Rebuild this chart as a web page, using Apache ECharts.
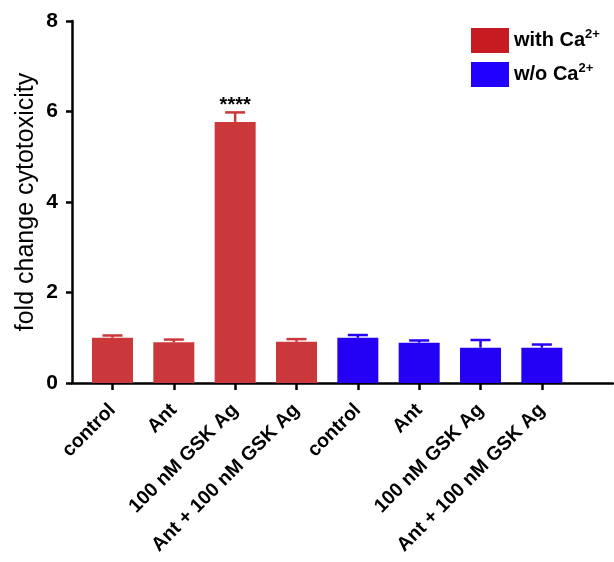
<!DOCTYPE html>
<html>
<head>
<meta charset="utf-8">
<script src="https://cdn.jsdelivr.net/npm/echarts@6/dist/echarts.min.js"></script>
<style>html,body{margin:0;padding:0;background:#fff;}#c{width:614px;height:562px;}</style>
</head>
<body>
<div id="c"></div>
<script>
const categories = ['control', 'Ant', '100 nM GSK Ag', 'Ant + 100 nM GSK Ag', 'control', 'Ant', '100 nM GSK Ag', 'Ant + 100 nM GSK Ag'];
const withCa = [1.00, 0.90, 5.77, 0.91];
const withCaErr = [0.05, 0.06, 0.21, 0.06];
const woCa = [1.00, 0.89, 0.78, 0.78];
const woCaErr = [0.06, 0.05, 0.17, 0.07];
const significance = ['', '', '****', '', '', '', '', ''];
const yTicks = [0, 2, 4, 6, 8];

const FONT = 'Liberation Sans, Arial, Helvetica, sans-serif';
const RED = '#ca383b';
const BLUE = '#2400f5';

const redData = withCa.map((v, i) => [i, v]);
const blueData = woCa.map((v, i) => [i + 4, v]);
const redErr = withCa.map((v, i) => [i, v, withCaErr[i]]);
const blueErr = woCa.map((v, i) => [i + 4, v, woCaErr[i]]);

function errRender(color) {
  return function (params, api) {
    const x = api.value(0), y = api.value(1), e = api.value(2);
    const sig = significance[x];
    const p0 = api.coord([x, y]);
    const p1 = api.coord([x, y + e]);
    const children = [
      { type: 'line', shape: { x1: p0[0], y1: p0[1], x2: p1[0], y2: p1[1] }, style: { stroke: color, lineWidth: 2.5 } },
      { type: 'line', shape: { x1: p1[0] - 10, y1: p1[1], x2: p1[0] + 10, y2: p1[1] }, style: { stroke: color, lineWidth: 2.5 } }
    ];
    if (sig) {
      children.push({ type: 'text', x: p1[0], y: p1[1] + 3, style: { text: sig, fill: '#000', font: 'bold 20px ' + FONT, align: 'center', verticalAlign: 'bottom' } });
    }
    return { type: 'group', children: children };
  };
}

const chart = echarts.init(document.getElementById('c'), null, { renderer: 'canvas' });
chart.setOption({
  animation: false,
  backgroundColor: '#fff',
  grid: { left: 72, right: 1, top: 21, bottom: 179, containLabel: false },
  legend: {
    orient: 'vertical',
    left: 466, top: 23,
    itemWidth: 38, itemHeight: 25, itemGap: 9,
    icon: 'rect',
    data: [
      { name: 'with Ca2+', itemStyle: { color: '#c61b20' } },
      { name: 'w/o Ca2+', itemStyle: { color: '#2200ff' } }
    ],
    formatter: function (name) { return '{t|' + name.replace('2+', '') + '}{s|2+}'; },
    textStyle: {
      rich: {
        t: { fontFamily: FONT, fontWeight: 'bold', fontSize: 20, color: '#000', lineHeight: 24 },
        s: { fontFamily: FONT, fontWeight: 'bold', fontSize: 13, color: '#000', lineHeight: 24, padding: [0, 0, 12, 0] }
      }
    }
  },
  xAxis: {
    type: 'value',
    min: -0.66, max: 8.16,
    splitLine: { show: false },
    axisLine: { show: true, onZero: false, lineStyle: { color: '#000', width: 2.5 } },
    axisTick: { show: true, customValues: categories.map((c, i) => i), length: 7, lineStyle: { color: '#000', width: 2.5 } },
    axisLabel: {
      show: true, customValues: categories.map((c, i) => i),
      formatter: function (v) { return categories[Math.round(v)]; },
      rotate: 45, margin: 24,
      fontFamily: FONT, fontWeight: 'bold', fontSize: 19.5, color: '#000'
    }
  },
  yAxis: {
    type: 'value', min: 0, max: 8, interval: 2,
    name: 'fold change cytotoxicity', nameLocation: 'middle', nameGap: 33, nameRotate: 90,
    nameMoveOverlap: false,
    nameTextStyle: { fontFamily: FONT, fontSize: 25, color: '#000' },
    splitLine: { show: false },
    axisLine: { show: true, onZero: false, lineStyle: { color: '#000', width: 2.5 } },
    axisTick: { show: true, length: 6, lineStyle: { color: '#000', width: 2.5 } },
    axisLabel: {
      margin: 14, fontFamily: FONT, fontWeight: 'bold', fontSize: 21, color: '#000',
      formatter: function (v) { return yTicks.indexOf(v) >= 0 ? String(v) : ''; }
    }
  },
  series: [
    { name: 'with Ca2+', type: 'bar', data: redData, barWidth: 41, barGap: '-100%', itemStyle: { color: RED } },
    { name: 'w/o Ca2+', type: 'bar', data: blueData, barWidth: 41, barGap: '-100%', itemStyle: { color: BLUE } },
    { name: 'errRed', type: 'custom', data: redErr, encode: { x: 0, y: 1 }, renderItem: errRender(RED), z: 3 },
    { name: 'errBlue', type: 'custom', data: blueErr, encode: { x: 0, y: 1 }, renderItem: errRender(BLUE), z: 3 }
  ]
});
</script>
</body>
</html>
